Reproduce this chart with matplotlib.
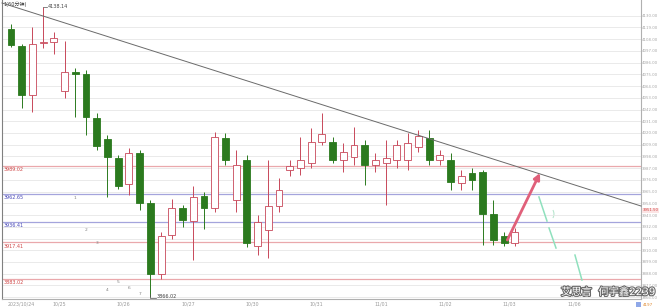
import matplotlib
matplotlib.use('Agg')
import matplotlib.pyplot as plt
import matplotlib.patheffects as pe
from matplotlib.patches import Arc
import matplotlib.transforms as mtransforms
import numpy as np

plt.rcParams['font.family'] = ['DejaVu Sans', 'Noto Sans CJK SC']

# 60 minute bars, oldest first
opens  = [4117.5, 4101.6, 4055.6, 4104.4, 4105.3, 4059.4, 4077.2, 4075.3, 4034.0, 4014.3,
          3996.5, 3972.1, 4001.2, 3954.3, 3887.7, 3924.3, 3949.6, 3937.4, 3960.9, 3949.6,
          4015.3, 3957.1, 3994.6, 3914.0, 3929.0, 3951.5, 3985.3, 3987.1, 3991.8, 4011.5,
          4011.5, 3994.6, 3997.5, 4008.7, 3989.9, 3991.8, 3994.6, 3994.6, 4006.8, 4015.3,
          3994.6, 3994.6, 3973.1, 3982.5, 3983.4, 3944.0, 3923.4, 3916.8]
closes = [4102.5, 4055.6, 4103.5, 4105.3, 4109.1, 4077.2, 4075.3, 4035.0, 4007.8, 3997.5,
          3970.3, 4001.2, 3954.3, 3887.7, 3923.4, 3949.6, 3938.4, 3960.0, 3949.6, 4016.2,
          3994.6, 3989.9, 3916.8, 3936.5, 3951.5, 3966.5, 3989.0, 3994.6, 4011.5, 4019.0,
          3994.6, 4002.1, 4008.7, 3989.9, 3994.6, 3996.5, 4008.7, 4010.6, 4017.2, 3994.6,
          3999.3, 3974.0, 3979.6, 3975.9, 3944.0, 3919.6, 3916.8, 3927.1]
highs  = [4122.2, 4103.5, 4119.4, 4138.14, 4114.7, 4106.3, 4080.9, 4079.0, 4038.7, 4018.1,
          3999.3, 4005.9, 4004.0, 3957.1, 3927.1, 3958.0, 3952.4, 3970.3, 3964.6, 4020.9,
          4020.0, 4004.0, 3999.3, 3943.1, 3994.6, 3977.8, 3994.6, 4016.2, 4024.7, 4038.7,
          4016.2, 4010.6, 4025.6, 4013.4, 4001.2, 4013.4, 4013.4, 4020.0, 4022.8, 4022.8,
          4004.0, 4001.2, 3985.3, 3987.1, 3985.3, 3957.1, 3927.1, 3930.9]
lows   = [4100.6, 4043.4, 4039.7, 4099.7, 4094.1, 4052.8, 4035.0, 4018.1, 4004.0, 3960.0,
          3967.4, 3961.8, 3947.8, 3866.02, 3883.0, 3920.5, 3931.8, 3900.8, 3929.9, 3945.9,
          3989.9, 3945.9, 3913.0, 3905.5, 3902.7, 3945.9, 3979.6, 3980.6, 3987.1, 4008.7,
          3991.8, 3983.4, 3990.0, 3971.2, 3983.4, 3952.4, 3987.1, 3985.3, 4002.1, 3989.9,
          3989.9, 3966.5, 3966.5, 3966.5, 3914.9, 3914.9, 3914.0, 3914.0]

date_pos = [1, 4.5, 10.5, 16.5, 22.5, 28.5, 34.5, 40.5, 46.5, 52.5]
date_labels = ['2023/10/24', '10/25', '10/26', '10/27', '10/30',
               '10/31', '11/01', '11/02', '11/03', '11/06']

level_prices = [3989.02, 3962.65, 3936.41, 3917.41, 3883.02]
level_kinds = ['r', 'b', 'b', 'r', 'r']

trend_x = [-0.84, 58.77]
trend_y = [4141.9, 3951.5]

arrow_from = (46.3, 3919.6)
arrow_to = (49.35, 3982.5)

proj_x = [[49.25, 50.0], [50.19, 50.84], [52.61, 53.26]]
proj_y = [[3960.0, 3937.4], [3930.9, 3912.1], [3905.5, 3882.1]]

mark_x = [6, 7, 8, 10, 9, 11, 12]
mark_y = [3959, 3929, 3917, 3880, 3873, 3875, 3869]
mark_t = ['1', '2', '3', '5', '4', '6', '7']

up_col = '#c8485a'
dn_col = '#2b7a1e'

fig = plt.figure(figsize=(6.6, 3.07), dpi=100)
ax = fig.add_axes([2 / 660, 1 - 299 / 307, 639 / 660, 299 / 307])
ax.set_xlim(-0.84, 58.77)
ax.set_ylim(3864.3, 4144.7)

yt = np.arange(4130, 3864, -11)
ax.set_yticks(yt)
ax.set_yticklabels(['%.2f' % v for v in yt])
ax.yaxis.tick_right()
ax.tick_params(axis='y', length=0, labelsize=2.8, labelcolor='#a8a8a8', pad=0.8)
ax.grid(axis='y', color='#e6e6e6', lw=0.6, zorder=0)

ax.set_xticks(date_pos)
ax.set_xticklabels(date_labels)
ax.tick_params(axis='x', length=0, labelsize=3.4, labelcolor='#9a9a9a', pad=1.5)

ax.spines['top'].set_visible(False)
for s in ['left', 'right', 'bottom']:
    ax.spines[s].set_color('#b0b0b0')
    ax.spines[s].set_linewidth(0.8)
ax.spines['left'].set_color('#808080')

# support / resistance levels
for p, k in zip(level_prices, level_kinds):
    lc = '#eaa8ac' if k == 'r' else '#a4a4dc'
    tc = '#d04848' if k == 'r' else '#4848b8'
    ax.axhline(p, color=lc, lw=0.9, zorder=1)
    ax.text(-0.7, p - 1.2, '%.2f' % p, fontsize=3.5, color=tc, va='top', ha='left', zorder=6)

# candles
for i in range(len(opens)):
    o, c, h, l = opens[i], closes[i], highs[i], lows[i]
    up = c >= o
    col = up_col if up else dn_col
    ax.vlines(i, l, h, color=col, lw=0.7, zorder=2)
    hb = max(abs(c - o), 0.9)
    ax.bar(i, hb, bottom=min(o, c), width=0.64,
           facecolor='white' if up else dn_col, edgecolor=col, lw=0.6, zorder=3)

# high / low marks
hi_i = int(np.argmax(highs))
lo_i = int(np.argmin(lows))
ax.plot([hi_i, hi_i + 0.35], [highs[hi_i], highs[hi_i]], color='#555555', lw=0.5)
ax.text(hi_i + 0.4, highs[hi_i], '%.2f' % highs[hi_i], fontsize=3.5, color='#444444', va='center')
ax.plot([lo_i, lo_i, lo_i + 0.5], [lows[lo_i] + 3, lows[lo_i] - 1.0, lows[lo_i] - 1.0],
        color='#555555', lw=0.5)
ax.text(lo_i + 0.6, lows[lo_i] + 1, '%.2f' % lows[lo_i], fontsize=3.5, color='#444444', va='center')

for x, y, t in zip(mark_x, mark_y, mark_t):
    ax.text(x, y, t, fontsize=3.2, color='#808080', ha='center', va='center')

# trend line
ax.plot(trend_x, trend_y, color='#6a6a6a', lw=0.7, zorder=4, clip_on=False)
tr = mtransforms.blended_transform_factory(ax.transAxes, ax.transData)
ax.text(1.002, trend_y[1] - 4, '%.2f' % trend_y[1], transform=tr, fontsize=2.8, color='#d04040',
        va='center', ha='left', bbox=dict(boxstyle='square,pad=0.1', fc='#fbe4e4', ec='none'))

# projection
ax.annotate('', xy=arrow_to, xytext=arrow_from,
            arrowprops=dict(arrowstyle='-|>', color='#e0607a', lw=2.0, mutation_scale=9,
                            shrinkA=0, shrinkB=0), zorder=7)
for xs, ys in zip(proj_x, proj_y):
    ax.plot(xs, ys, color='#8fe0bd', lw=1.1, zorder=5)
ax.add_patch(Arc((49.9, 3944), 1.5, 15, theta1=-80, theta2=80, color='#b8e6cf', lw=0.8))

# header / footer texts
ax.text(0.003, 0.995, '1(60分钟)', transform=ax.transAxes, fontsize=3.6, color='#333333',
        va='top', ha='left')
fig.text(643 / 660, 0.5 / 307, '4197', fontsize=3.0, color='#e08a30', ha='left', va='bottom')
fig.patches.append(plt.Rectangle((636 / 660, 0.5 / 307), 5 / 660, 5 / 307, transform=fig.transFigure,
                                 fc='#8fa8e8', ec='none'))
wm = fig.text(561 / 660, 15 / 307, '艾思言  何宇鑫2239', fontsize=7.4, color='white',
              ha='left', va='center')
wm.set_path_effects([pe.withStroke(linewidth=1.6, foreground='#6a6a6a')])

fig.savefig('out.png', dpi=100)
